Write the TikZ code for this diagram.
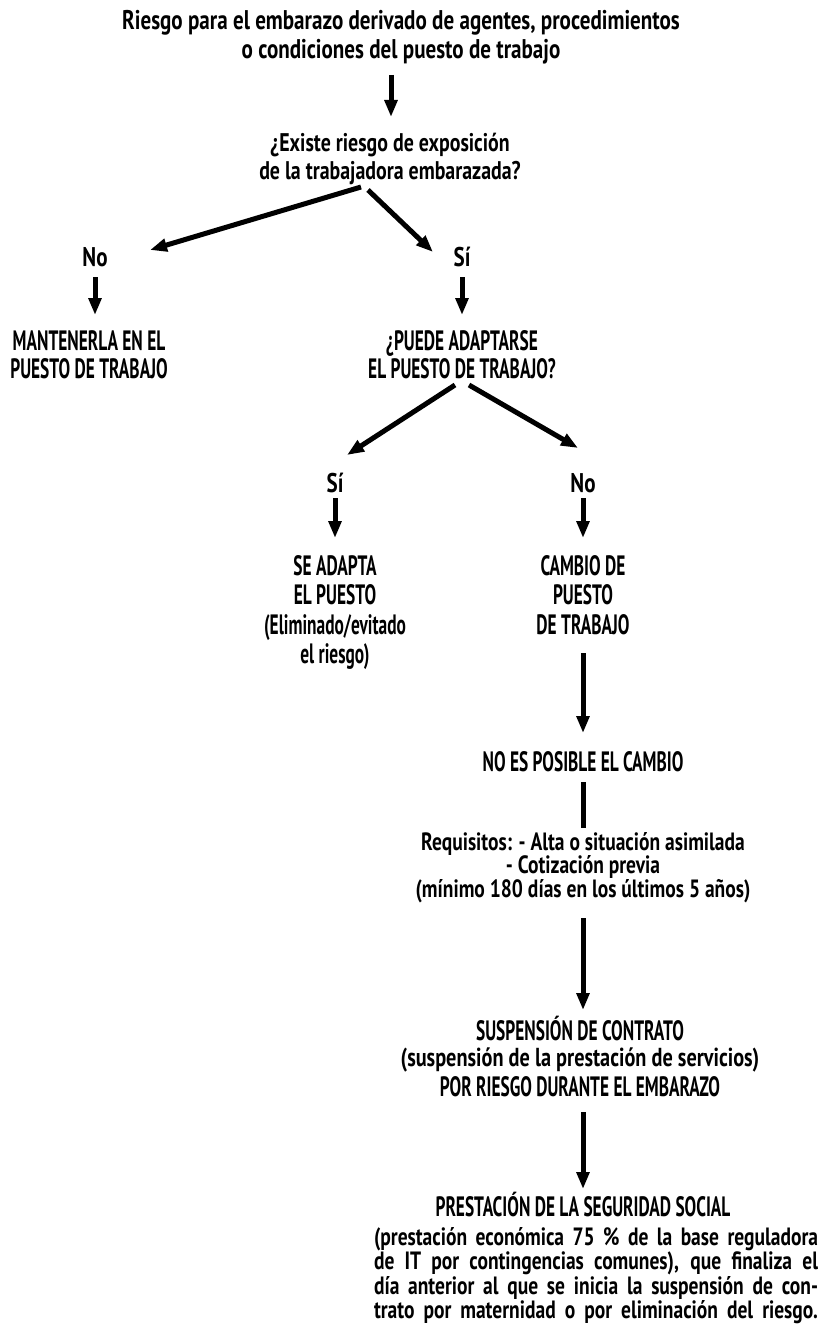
\documentclass[tikz,border=0pt]{standalone}
\usepackage{fontspec}
\newfontfamily\fcap{PT Sans}[FakeStretch=0.62]
\newfontfamily\flow{PT Sans}[FakeStretch=0.78]
\usetikzlibrary{arrows.meta,calc}
\newcommand\tp{\rule{0pt}{32pt}}
\newcommand\bt{\rule[-10pt]{0pt}{10pt}}
\begin{document}
\lineskiplimit=-100pt
\begin{tikzpicture}[x=1pt,y=-1pt,
  txt/.style={inner sep=0pt, outer sep=0pt, align=center, anchor=north},
  lowtxt/.style={txt, font=\flow\bfseries\fontsize{27}{29}\selectfont},
  captxt/.style={txt, font=\fcap\bfseries\fontsize{28}{28.5}\selectfont},
  arr/.style={line width=5pt, -{Triangle[length=17pt,width=12.5pt]}},
  bar/.style={line width=5pt}]
\useasboundingbox[fill=white] (0,0) rectangle (822,1332);
% node north = first baseline - 32
\node[lowtxt] (top) at (401,-2) {\tp Riesgo para el embarazo derivado de agentes, procedimientos\\o condiciones del puesto de trabajo\bt};
\node[lowtxt,font=\flow\bfseries\fontsize{25.5}{27.5}\selectfont] (q1) at (390,120) {\tp ¿Existe riesgo de exposición\\de la trabajadora embarazada?\bt};
\node[lowtxt] (no1) at (95,234) {\tp No\bt};
\node[lowtxt] (si1) at (462,234) {\tp Sí\bt};
\node[captxt] (keep) at (89,318) {\tp MANTENERLA EN EL\\PUESTO DE TRABAJO\bt};
\node[captxt] (q2) at (462,318) {\tp ¿PUEDE ADAPTARSE\\EL PUESTO DE TRABAJO?\bt};
\node[lowtxt] (si2) at (335,460) {\tp Sí\bt};
\node[lowtxt] (no2) at (583,460) {\tp No\bt};
\node[captxt,font=\fcap\bfseries\fontsize{28}{29.5}\selectfont] (adapt) at (335,543) {\tp SE ADAPTA\\EL PUESTO\\(Eliminado/evitado\\el riesgo)\bt};
\node[captxt,font=\fcap\bfseries\fontsize{28}{29.5}\selectfont] (change) at (583,543) {\tp CAMBIO DE\\PUESTO\\DE TRABAJO\bt};
\node[captxt] (nopos) at (583,739) {\tp NO ES POSIBLE EL CAMBIO\bt};
\node[lowtxt,font=\flow\bfseries\fontsize{25}{23.5}\selectfont] (req) at (583,818) {\tp Requisitos: - Alta o situación asimilada\\- Cotización previa\\(mínimo 180 días en los últimos 5 años)\bt};
\node[captxt,font=\fcap\bfseries\fontsize{28}{26}\selectfont] (susp) at (580,1008) {\tp SUSPENSIÓN DE CONTRATO\\{\flow\fontsize{26}{26}\selectfont(suspensión de la prestación de servicios)}\\[4pt]POR RIESGO DURANTE EL EMBARAZO\bt};
\node[captxt] (prh) at (583,1184) {\tp PRESTACIÓN DE LA SEGURIDAD SOCIAL\bt};
\node[txt,font=\flow\bfseries\fontsize{25}{24.5}\selectfont] (prp) at (596,1213) {%
\tp\makebox[444pt][s]{(prestación económica 75 \% de la base reguladora}\\
\makebox[444pt][s]{de IT por contingencias comunes), que finaliza el}\\
\makebox[444pt][s]{día anterior al que se inicia la suspensión de con-}\\
\makebox[444pt][s]{trato por maternidad o por eliminación del riesgo.}\bt};
% connectors (offsets from node anchors)
\draw[arr] ($(top.north)+(-10,77)$) -- ($(q1.north)+(1,-3)$);
\draw[arr] ($(q1.north)+(-29,67)$) -- ($(no1.north)+(55,16)$);
\draw[arr] ($(q1.north)+(-22,70)$) -- ($(si1.north)+(-29,18)$);
\draw[arr] ($(no1.north)+(0,43)$) -- ($(keep.north)+(6,-3)$);
\draw[arr] ($(si1.north)+(0,43)$) -- ($(q2.north)+(0,-3)$);
\draw[arr] ($(q2.north)+(-7,67)$) -- ($(si2.north)+(12,-5)$);
\draw[arr] ($(q2.north)+(7,67)$) -- ($(no2.north)+(-5,-12)$);
\draw[arr] ($(si2.north)+(0,38)$) -- ($(adapt.north)+(0,-5)$);
\draw[arr] ($(no2.north)+(0,38)$) -- ($(change.north)+(0,-5)$);
\draw[arr] ($(change.north)+(0,110)$) -- ($(nopos.north)+(0,-6)$);
\draw[bar] ($(nopos.north)+(0,43)$) -- ($(req.north)+(0,10)$);
\draw[arr] ($(req.north)+(0,100)$) -- ($(susp.north)+(3,2)$);
\draw[arr] ($(susp.north)+(3,104)$) -- ($(prh.north)+(0,5)$);
\end{tikzpicture}
\end{document}
